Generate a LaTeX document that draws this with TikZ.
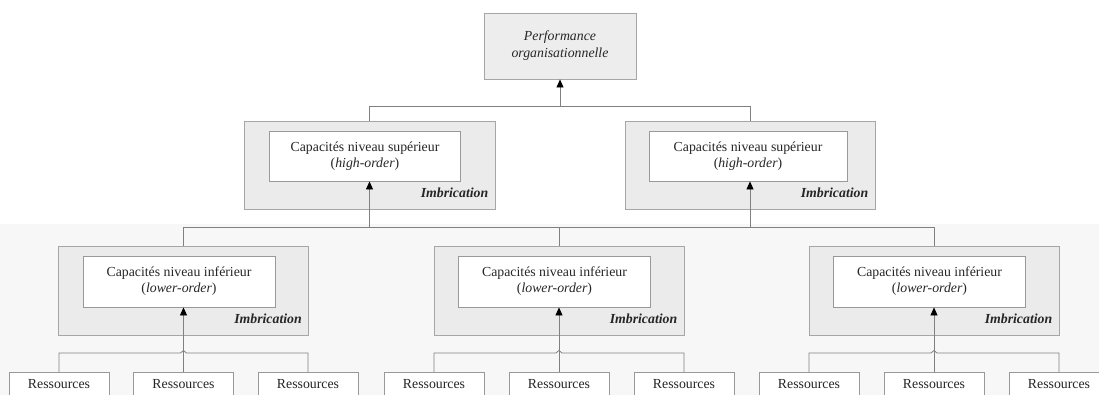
\documentclass[tikz,border=0pt]{standalone}
\usepackage{fontspec}
\setmainfont{Liberation Serif}
\usetikzlibrary{arrows.meta,calc}
\begin{document}
\begin{tikzpicture}[x=1pt,y=-1pt,
  every node/.style={font=\fontsize{13.8}{16}\selectfont, text=black!85},
  outerbox/.style={draw=black!35, fill=black!8, line width=0.9pt, minimum width=250pt, minimum height=88pt, inner sep=0pt},
  innerbox/.style={draw=black!40, fill=white, line width=0.9pt, minimum height=50pt, align=center, inner sep=0pt},
  topbox/.style={draw=black!35, fill=black!7, line width=0.9pt, minimum width=152pt, minimum height=66pt, align=center, inner sep=0pt, font=\itshape\fontsize{13.8}{17}\selectfont},
  resbox/.style={draw=black!40, fill=white, line width=0.9pt, minimum width=100pt, anchor=north, text height=11pt, text depth=12pt, inner ysep=5pt, inner xsep=0pt},
  tag/.style={anchor=base east, inner sep=0pt, font=\bfseries\itshape\fontsize{13.8}{16}\selectfont},
  conn/.style={draw=black!50, line width=0.8pt},
  arr/.style={conn, -{Triangle[length=8pt,width=7pt,color=black]}},
]
\clip (0,0) rectangle (1099,395);
\fill[black!3] (0,224) rectangle (1099,395);

% bus levels
\coordinate (bus1) at (0,106);
\coordinate (bus2) at (0,227);
\coordinate (bus3) at (0,353);

% top
\node[topbox] (top) at (560,46) {Performance\\organisationnelle};

% higher-order capabilities
\node[outerbox, minimum width=251pt] (h1) at (369.5,165) {};
\node[innerbox, minimum width=191pt] (h1i) at (365,156) {Capacités niveau supérieur\\(\textit{high-order})};
\node[tag] at ($(h1.south east)+(-7,-12)$) {Imbrication};

\node[outerbox] (h2) at (750,165) {};
\node[innerbox, minimum width=198pt] (h2i) at (748,156) {Capacités niveau supérieur\\(\textit{high-order})};
\node[tag] at ($(h2.south east)+(-7,-12)$) {Imbrication};

% lower-order capabilities
\foreach \n/\x in {l1/183.5, l2/559, l3/934}{
  \node[outerbox, minimum height=89pt] (\n) at (\x,290.5) {};
  \node[innerbox, minimum width=192pt, minimum height=51pt] (\n i) at (\x-4.5,281.5) {Capacités niveau inférieur\\(\textit{lower-order})};
  \node[tag] at ($(\n.south east)+(-7,-12)$) {Imbrication};
}

% resources
\foreach \g/\a/\b/\c in {1/59/183.5/308, 2/434/559/684, 3/809/934/1059}{
  \node[resbox] (r\g1) at (\a,372) {Ressources};
  \node[resbox] (r\g2) at (\b,372) {Ressources};
  \node[resbox] (r\g3) at (\c,372) {Ressources};
}

% connectors: capabilities to performance
\draw[conn] (h1.north) |- (h2 |- bus1) -- (h2.north);
\draw[arr] (top |- bus1) -- (top.south);

% connectors: lower-order to higher-order
\draw[conn] (l1.north) |- (l3 |- bus2) -- (l3.north);
\draw[conn] (l2.north) -- (l2 |- bus2);
\draw[arr] (h1 |- bus2) -- (h1 |- h1i.south);
\draw[arr] (h2 |- bus2) -- (h2 |- h2i.south);

% connectors: resources to lower-order (with a line hop at the crossing)
\foreach \g/\n in {1/l1, 2/l2, 3/l3}{
  \draw[conn] (r\g1.north) |- ($(\n |- bus3)+(-3,0)$) -- ($(\n |- bus3)+(0,-2.5)$) -- ($(\n |- bus3)+(3,0)$) -| (r\g3.north);
  \draw[arr] (r\g2.north) -- (r\g2.north |- \n i.south);
}
\end{tikzpicture}
\end{document}
